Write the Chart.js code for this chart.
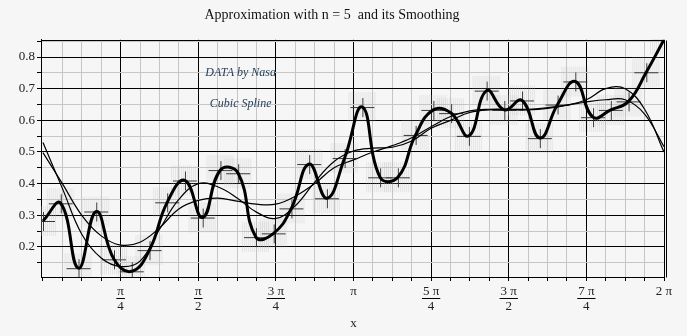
<!DOCTYPE html>
<html>
<head>
<meta charset="utf-8">
<title>Approximation with n = 5 and its Smoothing</title>
<script src="https://cdn.jsdelivr.net/npm/chart.js@4/dist/chart.umd.min.js"></script>
<style>
  html, body { margin: 0; padding: 0; background: #f6f6f6; }
  #wrap { width: 687px; height: 336px; }
</style>
</head>
<body>
<div id="wrap"><canvas id="myChart"></canvas></div>
<script>
// NASA samples: 36 equally spaced points on [0, 2π]
const nasaY = [0.282, 0.338, 0.133, 0.312, 0.161, 0.123, 0.190, 0.341, 0.410, 0.293,
  0.443, 0.433, 0.231, 0.243, 0.322, 0.462, 0.354, 0.481, 0.642, 0.420,
  0.420, 0.554, 0.633, 0.623, 0.551, 0.694, 0.633, 0.663, 0.544, 0.650,
  0.723, 0.610, 0.633, 0.660, 0.752, 0.855];

// Approximation (n = 5) and its smoothing, read every π/16
const approxY = [0.530, 0.385, 0.240, 0.165, 0.138, 0.155, 0.255, 0.350, 0.400, 0.390,
  0.355, 0.310, 0.290, 0.330, 0.405, 0.470, 0.503, 0.512, 0.515, 0.535,
  0.575, 0.600, 0.625, 0.633, 0.633, 0.633, 0.638, 0.648, 0.665, 0.700,
  0.700, 0.635, 0.500];
const smoothY = [0.498, 0.400, 0.300, 0.235, 0.206, 0.215, 0.260, 0.320, 0.347, 0.354,
  0.345, 0.335, 0.335, 0.360, 0.400, 0.450, 0.475, 0.500, 0.520, 0.545,
  0.580, 0.612, 0.630, 0.635, 0.635, 0.635, 0.640, 0.648, 0.658, 0.665,
  0.665, 0.620, 0.517];

// labels on every fourth minor tick (π/4 steps)
const xTickLabels = [['π', '4'], ['π', '2'], ['3 π', '4'], 'π', ['5 π', '4'], ['3 π', '2'], ['7 π', '4'], '2 π'];
const yTickLabels = ['0.2', '0.3', '0.4', '0.5', '0.6', '0.7', '0.8'];

const serif = "'Liberation Serif', 'DejaVu Serif', serif";

const nasaX = nasaY.map((_, i) => 2 * Math.PI * i / 35);
const curveX = approxY.map((_, k) => k * Math.PI / 16);
const toPts = (xs, ys) => xs.map((x, i) => ({ x: x, y: ys[i] }));

// cross marker with a faint hatch behind it
function makeMarker() {
  const c = document.createElement('canvas');
  c.width = 30;
  c.height = 34;
  const g = c.getContext('2d');
  g.fillStyle = 'rgba(185,185,185,0.28)';
  for (let x = 1; x < 29; x += 2) g.fillRect(x, 2, 1, 30);
  g.strokeStyle = '#383838';
  g.lineWidth = 1;
  g.beginPath();
  g.moveTo(3, 17.5); g.lineTo(27, 17.5);
  g.moveTo(15.5, 8); g.lineTo(15.5, 27);
  g.stroke();
  return c;
}

// frame, fraction bars under the π ticks, axis name and text notes
const decorations = {
  id: 'decorations',
  afterDraw(chart) {
    const ctx = chart.ctx;
    const a = chart.chartArea;
    const xs = chart.scales.x;
    const ys = chart.scales.y;
    ctx.save();
    ctx.strokeStyle = '#000';
    ctx.lineWidth = 1;
    ctx.beginPath();
    ctx.moveTo(Math.round(a.left) + 0.5, Math.round(a.top) + 0.5);
    ctx.lineTo(Math.round(a.right) + 0.5, Math.round(a.top) + 0.5);
    ctx.lineTo(Math.round(a.right) + 0.5, Math.round(a.bottom) + 0.5);
    ctx.moveTo(Math.round(a.right) + 2.5, Math.round(a.top) + 0.5);
    ctx.lineTo(Math.round(a.right) + 2.5, Math.round(a.bottom) + 0.5);
    ctx.stroke();

    ctx.font = '13px ' + serif;
    xs.ticks.forEach((t) => {
      if (Array.isArray(t.label)) {
        const px = xs.getPixelForValue(t.value);
        const w = ctx.measureText(t.label[0]).width + 2;
        ctx.beginPath();
        ctx.moveTo(px - w / 2, Math.round(a.bottom) + 21.5);
        ctx.lineTo(px + w / 2, Math.round(a.bottom) + 21.5);
        ctx.stroke();
      }
    });

    ctx.fillStyle = '#222';
    ctx.textAlign = 'center';
    ctx.textBaseline = 'middle';
    ctx.fillText('x', xs.getPixelForValue(Math.PI), a.bottom + 47);

    ctx.font = 'italic 12px ' + serif;
    ctx.fillStyle = '#26425a';
    ctx.fillText('DATA by Nasa', xs.getPixelForValue(2.0), ys.getPixelForValue(0.751));
    ctx.fillText('Cubic Spline', xs.getPixelForValue(2.0), ys.getPixelForValue(0.652));
    ctx.restore();
  }
};

const chartConfig = {
  type: 'line',
  data: {
    datasets: [
      {
        label: 'Cubic Spline',
        data: toPts(nasaX, nasaY),
        borderColor: '#000',
        borderWidth: 3,
        tension: 0.45,
        pointRadius: 0
      },
      {
        label: 'Approximation',
        data: toPts(curveX, approxY),
        borderColor: '#000',
        borderWidth: 1.2,
        tension: 0.4,
        pointRadius: 0
      },
      {
        label: 'Smoothing',
        data: toPts(curveX, smoothY),
        borderColor: '#000',
        borderWidth: 1.2,
        tension: 0.4,
        pointRadius: 0
      },
      {
        label: 'DATA by Nasa',
        data: toPts(nasaX, nasaY),
        showLine: false,
        pointStyle: makeMarker(),
        pointRadius: 10
      }
    ]
  },
  options: {
    responsive: true,
    maintainAspectRatio: false,
    animation: false,
    events: [],
    layout: { padding: { left: 0, right: 23, top: 0, bottom: 0 } },
    plugins: {
      legend: { display: false },
      tooltip: { enabled: false },
      title: {
        display: true,
        text: 'Approximation with n = 5  and its Smoothing',
        color: '#111',
        font: { family: serif, size: 14, weight: 'normal' },
        padding: { top: 7, bottom: 16 }
      }
    },
    scales: {
      x: {
        type: 'linear',
        min: -0.02,
        max: 2 * Math.PI,
        afterBuildTicks: (scale) => {
          scale.ticks = curveX.map((v) => ({ value: v }));
        },
        afterFit: (scale) => { scale.height = 59; },
        ticks: {
          autoSkip: false,
          maxRotation: 0,
          padding: 3,
          color: '#222',
          font: { family: serif, size: 13, lineHeight: 1.15 },
          callback: (value, index) => (index % 4 === 0 && index > 0 ? xTickLabels[index / 4 - 1] : '')
        },
        grid: {
          color: (c) => (c.index === 0 ? 'rgba(0,0,0,0)' : c.index % 4 === 0 ? '#000' : '#c6c6c6'),
          tickColor: '#000',
          tickLength: 4
        },
        border: { color: '#000' }
      },
      y: {
        type: 'linear',
        min: 0.105,
        max: 0.8545,
        afterBuildTicks: (scale) => {
          const t = [];
          for (let i = 3; i <= 17; i++) t.push({ value: i / 20 });
          scale.ticks = t;
        },
        afterFit: (scale) => { scale.width = 41; },
        ticks: {
          autoSkip: false,
          padding: 2,
          color: '#222',
          font: { family: serif, size: 13 },
          callback: (value) => {
            const n = Math.round(value * 20);
            return n % 2 === 0 ? yTickLabels[n / 2 - 2] : '';
          }
        },
        grid: {
          color: (c) => (Math.round(c.tick.value * 20) % 2 === 0 ? '#000' : '#c6c6c6'),
          tickColor: '#000',
          tickLength: 4
        },
        border: { color: '#000' }
      }
    }
  },
  plugins: [decorations]
};

const myChart = new Chart(document.getElementById('myChart'), chartConfig);
</script>
</body>
</html>
